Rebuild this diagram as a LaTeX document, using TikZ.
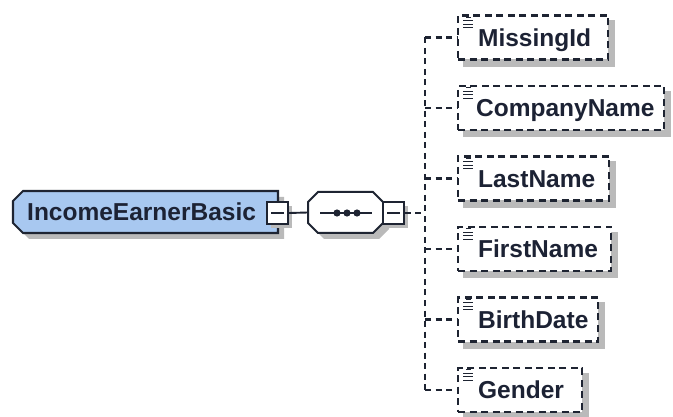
\documentclass[tikz,border=0pt]{standalone}
\usepackage{fontspec}
\setmainfont{Liberation Sans}
\usetikzlibrary{backgrounds,calc}
\definecolor{mainfill}{RGB}{168,200,240}
\definecolor{edge}{RGB}{30,36,50}
\definecolor{txt}{RGB}{28,34,52}
\definecolor{shad}{RGB}{186,186,186}
\begin{document}
\begin{tikzpicture}[x=1pt,y=-1pt,
  conn/.style={draw=edge,line width=2.1pt,dash pattern=on 6pt off 4.5pt},
  solidconn/.style={draw=edge,line width=1.9pt},
  elembox/.style={draw=edge,line width=2.3pt,dash pattern=on 7pt off 4.5pt,fill=white,
    minimum height=44pt,inner xsep=0pt,inner ysep=0pt,anchor=west,
    font=\fontsize{24.5}{28}\selectfont\bfseries,text=txt,align=left,
    text height=17.5pt,text depth=0pt},
  mainlabel/.style={draw=none,inner xsep=14pt,inner ysep=0pt,anchor=west,
    font=\fontsize{24.5}{28}\selectfont\bfseries,text=txt,
    text height=17.5pt,text depth=0pt,minimum height=42pt},
  minusbox/.style={draw=edge,line width=1.9pt,fill=white,minimum width=21pt,minimum height=22pt,inner sep=0pt,
    path picture={\draw[edge,line width=1.9pt] ([xshift=4pt]path picture bounding box.west) -- ([xshift=-4pt]path picture bounding box.east);}},
  seqanchor/.style={draw=none,minimum width=75pt,minimum height=41pt,inner sep=0pt},
  iconline/.style={draw=edge,line width=1.2pt},
]
\useasboundingbox (0,0) rectangle (673,417);

% main element shadow and outline
\fill[shad] (29,197) -- (284,197) -- (284,239) -- (29,239) -- (19,229) -- (19,207) -- cycle;
\filldraw[fill=mainfill,draw=edge,line width=2.1pt] (23,191) -- (278,191) -- (278,233) -- (23,233) -- (13,223) -- (13,201) -- cycle;
\node[mainlabel] (main) at (13,212) {IncomeEarnerBasic};

% sequence compositor
\fill[shad] (324,198) -- (379,198) -- (389,208) -- (389,229) -- (379,239) -- (324,239) -- (314,229) -- (314,208) -- cycle;
\filldraw[fill=white,draw=edge,line width=2pt] (318,192) -- (373,192) -- (383,202) -- (383,223) -- (373,233) -- (318,233) -- (308,223) -- (308,202) -- cycle;
\node[seqanchor] (seq) at (345.5,212.5) {};
\draw[solidconn] (320,213) -- (372,213);
\foreach \dx in {337,347,357} \fill[edge] (\dx,213) circle (3.6);

% minus boxes
\fill[shad] (271,206) rectangle (292,228);
\fill[shad] (387,206) rectangle (408,228);
\node[minusbox] (m1) at (277.5,213) {};
\node[minusbox] (m2) at (393.5,213) {};
\draw[solidconn] (m1.east) -- (seq.west);

% children
\node[elembox,text width=150pt] (c1) at (457,37.5) {\hspace*{20pt}MissingId};
\node[elembox,text width=206pt] (c2) at (457,108) {\hspace*{18pt}CompanyName};
\node[elembox,text width=151pt] (c3) at (457,178.5) {\hspace*{20pt}LastName};
\node[elembox,text width=153pt] (c4) at (457,249) {\hspace*{20pt}FirstName};
\node[elembox,text width=140pt] (c5) at (457,319.5) {\hspace*{20pt}BirthDate};
\node[elembox,text width=124pt] (c6) at (457,390) {\hspace*{20pt}Gender};

\begin{scope}[on background layer]
  \foreach \c in {c1,c2,c3,c4,c5,c6}
    \fill[shad] ($(\c.north west)+(6,6)$) rectangle ($(\c.south east)+(6,6)$);
\end{scope}

% icons
\foreach \c in {c1,c2,c3,c4,c5,c6}{
  \draw[iconline] ($(\c.north west)+(9,3)$) -- ($(\c.north west)+(14,3)$);
  \draw[iconline] ($(\c.north west)+(6,6.5)$) -- ($(\c.north west)+(16,6.5)$);
  \draw[iconline] ($(\c.north west)+(6,10)$) -- ($(\c.north west)+(16,10)$);
  \draw[iconline] ($(\c.north west)+(6,13.5)$) -- ($(\c.north west)+(16,13.5)$);
}

% connectors
\coordinate (tj) at (425,213);
\foreach \i/\yy in {1/37.5,2/108,3/178.5,4/249,5/319.5,6/390}
  \coordinate (j\i) at (425,\yy);
\draw[conn] (m2.east) -- (tj);
\draw[conn] (j1) -- (j6);
\foreach \i in {1,...,6} \draw[conn] (j\i) -- (c\i.west);
\end{tikzpicture}
\end{document}
